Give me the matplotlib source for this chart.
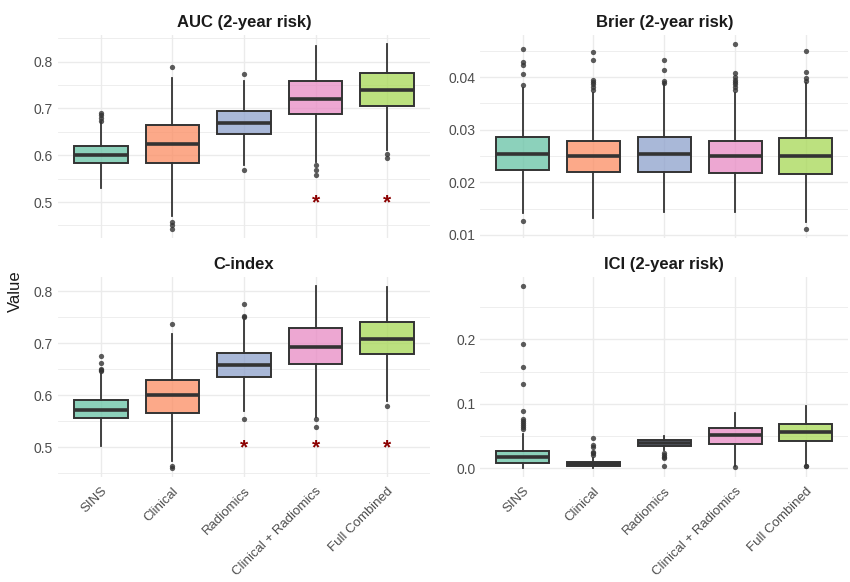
import matplotlib
matplotlib.use("Agg")
import matplotlib.pyplot as plt
from matplotlib.ticker import MultipleLocator, FormatStrFormatter

plt.rcParams["font.family"] = ["Liberation Sans", "DejaVu Sans"]

models = ["SINS", "Clinical", "Radiomics", "Clinical + Radiomics", "Full Combined"]
colors = ["#66C2A5", "#FC8D62", "#8DA0CB", "#E78AC3", "#A6D854"]

# box summaries: whislo, q1, med, q3, whishi
auc_stats = [
    [0.530, 0.583, 0.601, 0.619, 0.671],
    [0.470, 0.584, 0.624, 0.664, 0.766],
    [0.579, 0.646, 0.669, 0.694, 0.759],
    [0.586, 0.687, 0.720, 0.758, 0.833],
    [0.611, 0.705, 0.739, 0.775, 0.837],
]
auc_fliers = [
    [0.674, 0.680, 0.685, 0.690],
    [0.789, 0.457, 0.450, 0.443],
    [0.774, 0.568],
    [0.578, 0.569, 0.557],
    [0.603, 0.593],
]
auc_stars = [3, 4]

brier_stats = [
    [0.0142, 0.0224, 0.0253, 0.0286, 0.0379],
    [0.0132, 0.0220, 0.0249, 0.0279, 0.0370],
    [0.0144, 0.0220, 0.0253, 0.0286, 0.0386],
    [0.0144, 0.0217, 0.0249, 0.0279, 0.0370],
    [0.0125, 0.0216, 0.0249, 0.0284, 0.0389],
]
brier_fliers = [
    [0.0385, 0.0406, 0.0423, 0.0429, 0.0454, 0.0126],
    [0.0376, 0.0381, 0.0386, 0.0390, 0.0394, 0.0432, 0.0447],
    [0.0389, 0.0392, 0.0414, 0.0432],
    [0.0376, 0.0381, 0.0386, 0.0390, 0.0395, 0.0400, 0.0407, 0.0462],
    [0.0392, 0.0398, 0.0409, 0.0450, 0.0112],
]

cindex_stats = [
    [0.502, 0.555, 0.572, 0.591, 0.641],
    [0.474, 0.566, 0.600, 0.629, 0.718],
    [0.569, 0.635, 0.657, 0.681, 0.745],
    [0.557, 0.660, 0.692, 0.729, 0.809],
    [0.589, 0.678, 0.708, 0.740, 0.808],
]
cindex_fliers = [
    [0.646, 0.649, 0.651, 0.662, 0.676],
    [0.737, 0.464, 0.460],
    [0.750, 0.752, 0.776, 0.553],
    [0.553, 0.539],
    [0.579],
]
cindex_stars = [2, 3, 4]

ici_stats = [
    [0.001, 0.0086, 0.0172, 0.0273, 0.0532],
    [0.001, 0.0040, 0.0071, 0.0096, 0.0167],
    [0.0278, 0.0344, 0.0400, 0.0446, 0.0506],
    [0.004, 0.0380, 0.0511, 0.0623, 0.0860],
    [0.005, 0.0430, 0.0557, 0.0684, 0.0960],
]
ici_fliers = [
    [0.061, 0.064, 0.067, 0.070, 0.073, 0.076, 0.0896, 0.1316, 0.1575, 0.1924, 0.2825],
    [0.020, 0.023, 0.025, 0.033, 0.036, 0.0476],
    [0.023, 0.021, 0.018, 0.016, 0.004],
    [0.002],
    [0.0035, 0.003],
]

panels = [
    ("AUC (2-year risk)", auc_stats, auc_fliers, auc_stars, (0.423, 0.857), 0.1, "%.1f"),
    ("Brier (2-year risk)", brier_stats, brier_fliers, [], (0.0094, 0.0480), 0.01, "%.2f"),
    ("C-index", cindex_stats, cindex_fliers, cindex_stars, (0.443, 0.827), 0.1, "%.1f"),
    ("ICI (2-year risk)", ici_stats, ici_fliers, [], (-0.013, 0.297), 0.1, "%.1f"),
]

fig = plt.figure(figsize=(8.5, 5.82), dpi=100)
rects = [
    [0.068, 0.591, 0.438, 0.349],
    [0.565, 0.591, 0.433, 0.349],
    [0.068, 0.181, 0.438, 0.343],
    [0.565, 0.181, 0.433, 0.343],
]

edge = "#333333"
grid_c = "#EBEBEB"
text_c = "#4D4D4D"

for i, (title, stats, fliers, stars, ylim, step, fmt) in enumerate(panels):
    ax = fig.add_axes(rects[i])
    bx = []
    for s, f, name in zip(stats, fliers, models):
        bx.append(dict(whislo=s[0], q1=s[1], med=s[2], q3=s[3], whishi=s[4],
                       fliers=f, label=name))
    pos = list(range(1, len(models) + 1))
    res = ax.bxp(bx, positions=pos, widths=0.75, patch_artist=True,
                 showcaps=False,
                 boxprops=dict(edgecolor=edge, linewidth=1.4),
                 whiskerprops=dict(color=edge, linewidth=1.3),
                 medianprops=dict(color=edge, linewidth=2.6),
                 flierprops=dict(marker="o", markersize=3.8, markerfacecolor=edge,
                                 markeredgecolor="none", alpha=0.8))
    for patch, c in zip(res["boxes"], colors):
        patch.set_facecolor(matplotlib.colors.to_rgba(c, 0.75))
    for k in stars:
        ax.text(pos[k], 0.499, "*", ha="center", va="center", color="#8B0000",
                fontsize=15, fontweight="bold")

    ax.set_xlim(0.4, 5.6)
    ax.set_ylim(*ylim)
    ax.yaxis.set_major_locator(MultipleLocator(step))
    ax.yaxis.set_minor_locator(MultipleLocator(step / 2))
    ax.yaxis.set_major_formatter(FormatStrFormatter(fmt))
    ax.set_axisbelow(True)
    ax.grid(True, which="major", color=grid_c, linewidth=1.0)
    ax.grid(True, which="minor", axis="y", color=grid_c, linewidth=0.6)
    for sp in ax.spines.values():
        sp.set_visible(False)
    ax.tick_params(which="both", length=0, labelsize=10, labelcolor=text_c)
    ax.set_title(title, fontsize=12, fontweight="bold", color="#1A1A1A", pad=6)
    if i < 2:
        ax.set_xticklabels([])
    else:
        ax.set_xticks(pos)
        ax.set_xticklabels(models, rotation=45, ha="right", rotation_mode="anchor",
                           fontsize=9.5)
        ax.tick_params(axis="x", pad=6)

fig.text(0.018, 0.5, "Value", rotation=90, va="center", ha="center",
         fontsize=12, color="#1A1A1A")

fig.savefig("out.png", dpi=100, facecolor="white")
